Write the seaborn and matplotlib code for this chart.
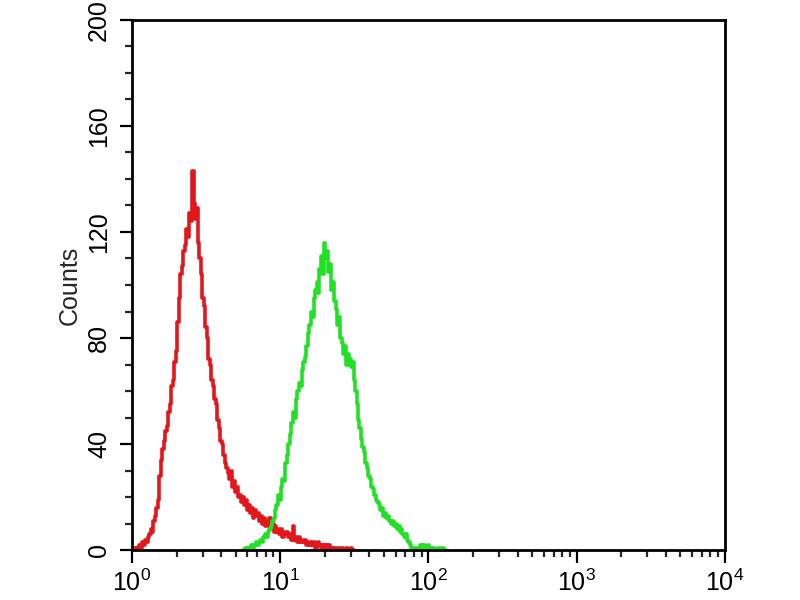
import numpy as np
import pandas as pd
import seaborn as sns
import matplotlib.pyplot as plt
from matplotlib.ticker import MultipleLocator, LogLocator, NullFormatter

# log10 of fluorescence channel, and counts
red_log_fl = np.round(np.arange(0, 151) * 0.01, 2)
red_counts = [
    0, 0, 1, 0, 1, 2, 1, 3, 2, 4,
    3, 5, 6, 8, 7, 11, 13, 16, 19, 28,
    34, 38, 41, 45, 47, 52, 55, 62, 64, 71,
    75, 86, 95, 104, 107, 113, 115, 121, 118, 127,
    124, 143, 131, 125, 129, 116, 110, 104, 95, 92,
    84, 80, 72, 70, 64, 62, 57, 55, 49, 46,
    41, 40, 36, 33, 31, 29, 27, 30, 24, 26,
    22, 24, 20, 21, 18, 20, 17, 19, 15, 17,
    14, 16, 12, 15, 13, 14, 11, 13, 10, 12,
    9, 11, 9, 12, 8, 10, 7, 9, 7, 8,
    6, 8, 5, 7, 6, 7, 5, 6, 4, 9,
    4, 5, 3, 5, 3, 4, 3, 4, 2, 3,
    2, 3, 2, 3, 1, 2, 3, 2, 1, 2,
    1, 2, 1, 2, 1, 1, 0, 1, 1, 0,
    1, 0, 1, 0, 0, 1, 0, 0, 1, 0,
    0,
]

green_log_fl = np.round(0.75 + np.arange(0, 138) * 0.01, 2)
green_counts = [
    0, 0, 1, 0, 1, 1, 2, 1, 2, 3,
    2, 3, 4, 3, 5, 6, 5, 7, 8, 9,
    11, 12, 15, 17, 21, 19, 24, 27, 26, 33,
    36, 40, 44, 48, 52, 50, 57, 60, 63, 62,
    68, 71, 73, 77, 82, 85, 90, 88, 95, 98,
    101, 97, 106, 111, 104, 116, 110, 113, 105, 108,
    98, 101, 94, 91, 85, 88, 80, 78, 74, 77,
    70, 74, 72, 69, 71, 64, 60, 55, 49, 46,
    42, 39, 37, 33, 31, 28, 27, 24, 23, 21,
    19, 18, 17, 15, 16, 13, 14, 12, 13, 11,
    10, 11, 9, 10, 8, 9, 7, 8, 6, 5,
    6, 4, 3, 2, 1, 1, 0, 1, 0, 1,
    2, 1, 2, 1, 1, 2, 1, 0, 1, 1,
    0, 0, 1, 0, 0, 1, 0, 0,
]

y_ticks = [0, 40, 80, 120, 160, 200]

red = pd.DataFrame({'fl': 10 ** red_log_fl, 'counts': red_counts})
green = pd.DataFrame({'fl': 10 ** green_log_fl, 'counts': green_counts})

sns.set_style("ticks")
plt.rcParams['font.family'] = ['Liberation Sans', 'DejaVu Sans']
plt.rcParams['mathtext.default'] = 'regular'

fig = plt.figure(figsize=(8, 6), dpi=100)
ax = fig.add_axes([0.165, 0.083, 0.741, 0.884])

sns.lineplot(x='fl', y='counts', data=red, ax=ax, color='#e3171b',
             linewidth=2.6, drawstyle='steps-mid', estimator=None)
sns.lineplot(x='fl', y='counts', data=green, ax=ax, color='#22e025',
             linewidth=2.6, drawstyle='steps-mid', estimator=None)

ax.set_xscale('log')
ax.set_xlim(1, 1e4)
ax.set_ylim(0, 200)
ax.set_yticks(y_ticks)
ax.yaxis.set_minor_locator(MultipleLocator(10))
ax.xaxis.set_major_locator(LogLocator(base=10, numticks=10))
ax.xaxis.set_minor_locator(LogLocator(base=10, subs=np.arange(2, 10), numticks=20))
ax.xaxis.set_minor_formatter(NullFormatter())

for s in ax.spines.values():
    s.set_linewidth(2)
    s.set_color('black')
ax.tick_params(which='major', length=9, width=1.6, direction='out', colors='black')
ax.tick_params(which='minor', length=5, width=1.6, direction='out')
ax.tick_params(axis='x', labelsize=18, pad=5)
ax.tick_params(axis='y', labelsize=18, labelrotation=90, pad=6)
for lab in ax.get_yticklabels():
    lab.set_va('center')

ax.set_xlabel('')
ax.set_ylabel('Counts', fontsize=18, labelpad=4)

fig.savefig('out.png', dpi=100)
